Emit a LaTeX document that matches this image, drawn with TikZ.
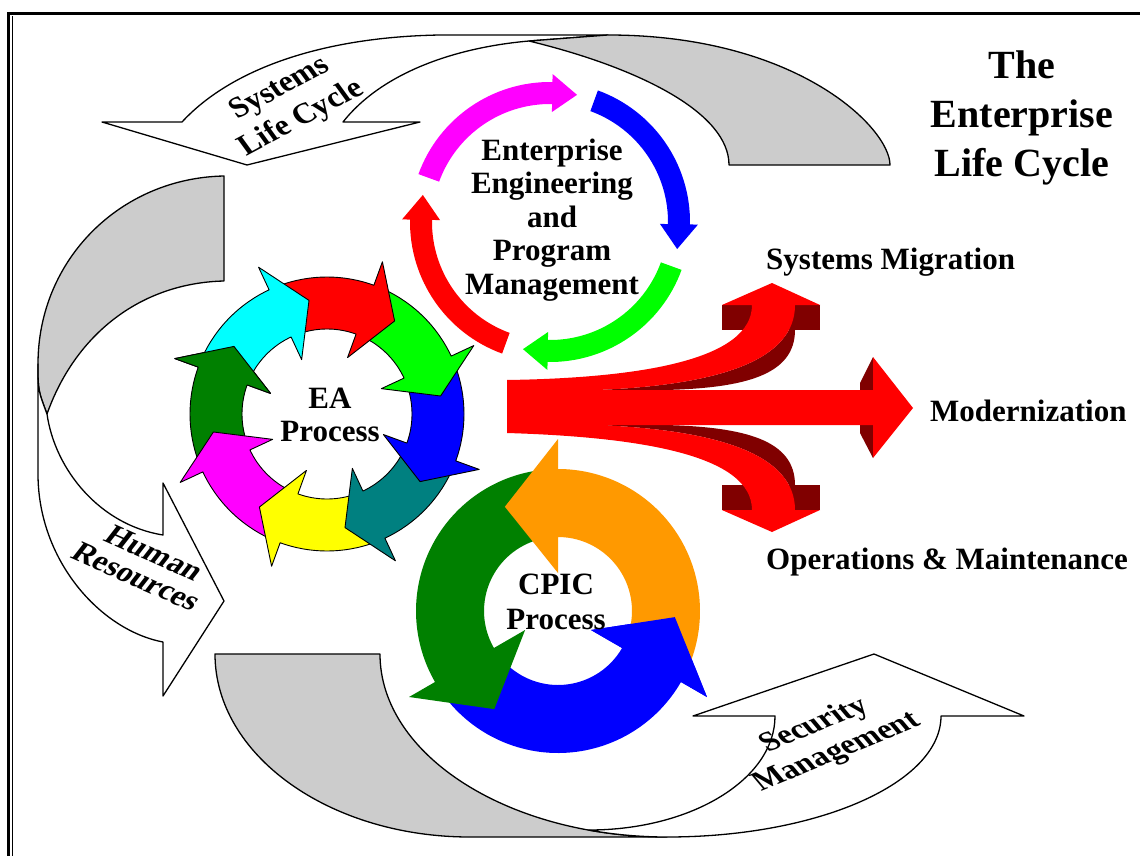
\documentclass[tikz,border=0pt]{standalone}
\usepackage{fontspec}
\setmainfont{Liberation Serif}
\definecolor{sgrey}{RGB}{204,204,204}
\definecolor{cred}{RGB}{255,0,0}
\definecolor{cblue}{RGB}{0,0,255}
\definecolor{clime}{RGB}{0,255,0}
\definecolor{cmag}{RGB}{255,0,255}
\definecolor{ccyan}{RGB}{0,255,255}
\definecolor{cyel}{RGB}{255,255,0}
\definecolor{cteal}{RGB}{0,128,128}
\definecolor{cdkgreen}{RGB}{0,128,0}
\definecolor{corange}{RGB}{255,153,0}
\definecolor{cmaroon}{RGB}{128,0,0}
\begin{document}
\begin{tikzpicture}[x=1pt,y=-1pt,
  swoosh/.style={draw=black,line width=1.3pt,line join=round},
  eaarrow/.style={draw=black,line width=0.9pt,line join=round},
  lbl/.style={font=\bfseries\fontsize{31}{33.5}\selectfont,align=center,inner sep=0pt},
  titlelbl/.style={font=\bfseries\fontsize{40}{49}\selectfont,align=center,inner sep=0pt},
  sidelbl/.style={font=\bfseries\fontsize{31}{33.5}\selectfont,inner sep=0pt,anchor=base west}]
\useasboundingbox (0,0) rectangle (1140,856);
\fill[white] (0,0) rectangle (1140,856);
% frame
\draw[line width=3pt] (7,13.5) -- (1140,13.5);
\draw[line width=2.5pt] (8.5,12) -- (8.5,856);
\draw[line width=1pt] (12.5,16) -- (12.5,856);

% ---- top swoosh (Systems Life Cycle)
\filldraw[swoosh,fill=white] (102,122) -- (182,122) .. controls (230,70) and (320,37) .. (440,35) -- (608,35) -- (529,41) .. controls (450,48) and (380,75) .. (343,122) -- (420,122) -- (247,165) -- cycle;
\filldraw[swoosh,fill=sgrey] (529,41) .. controls (640,68) and (729,113) .. (729,165) -- (890,165) .. controls (890,128) and (797,35) .. (608,35) -- cycle;

% ---- left swoosh (Human Resources)
\filldraw[swoosh,fill=sgrey] (224,176) -- (224,281) .. controls (140,283) and (75,335) .. (47,414) .. controls (38,390) .. (38,364) .. controls (38,260) and (120,178) .. (224,176) -- cycle;
\filldraw[swoosh,fill=white] (38,364) -- (38,474) .. controls (38,560) and (100,630) .. (163,642) -- (163,696) -- (224,601) -- (163,483) -- (163,535) .. controls (100,525) and (55,470) .. (47,414) .. controls (38,390) .. (38,364) -- cycle;

% ---- bottom swoosh (Security Management)
\filldraw[swoosh,fill=sgrey] (215,654) -- (380,654) arc[start angle=180,end angle=90,x radius=287,y radius=183] -- (470,837) arc[start angle=90,end angle=180,x radius=255,y radius=183] -- cycle;
\filldraw[swoosh,fill=white] (589,830) arc[start angle=90,end angle=0,x radius=186,y radius=114] -- (693,716) -- (874,654) -- (1024,716) -- (941,716) arc[start angle=0,end angle=90,x radius=274,y radius=121] arc[start angle=90,end angle=105.8,x radius=287,y radius=183] -- cycle;

% ---- Enterprise Engineering ring
\begin{scope}[shift={(550,222)}]
\foreach \T/\c in {160/cmag, 70/cblue, -20/clime, -110/cred}{
  \pgfmathsetmacro\ta{-\T}
  \pgfmathsetmacro\ba{-(\T-71)}
  \pgfmathsetmacro\pa{-(\T-82)}
  \fill[\c] (\ta:140) arc[start angle=\ta,end angle=\ba,radius=140] -- (\ba:148) -- (\pa:130) -- (\ba:110) -- (\ba:118) arc[start angle=\ba,end angle=\ta,radius=118] -- cycle;
}
\end{scope}

% ---- EA ring
\begin{scope}[shift={(327,414)}]
\foreach \b/\c in {160/cdkgreen, -155/cmag, -110/cyel, -65/cteal, -20/cblue, 25/clime, 70/cred, 115/ccyan}{
  \pgfmathsetmacro\ta{-(\b+40)}
  \pgfmathsetmacro\ba{-\b}
  \pgfmathsetmacro\pa{-(\b-16)}
  \filldraw[eaarrow,fill=\c] (\ta:137) arc[start angle=\ta,end angle=\ba,radius=137] -- (\ba:162) -- (\pa:115) -- (\ba:60) -- (\ba:85) arc[start angle=\ba,end angle=\ta,radius=85] -- cycle;
}
\fill[cdkgreen] (-160:137) -- (-160:162) -- (-144:115) -- (-160:60) -- (-160:85) -- cycle;
\draw[eaarrow] (-160:137) -- (-160:162) -- (-144:115) -- (-160:60) -- (-160:85);
\end{scope}

% ---- CPIC ring
\begin{scope}[shift={(558,611)}]
\foreach \b/\c in {330/cblue, 210/cdkgreen, 90/corange}{
  \pgfmathsetmacro\ta{-(\b-112)}
  \pgfmathsetmacro\ba{-\b}
  \pgfmathsetmacro\pa{-(\b+27)}
  \fill[\c] (\ta:142) arc[start angle=\ta,end angle=\ba,radius=142] -- (\ba:172) -- (\pa:117) -- (\ba:38) -- (\ba:74) arc[start angle=\ba,end angle=\ta,radius=74] -- cycle;
}
\fill[cblue] (-330:142) -- (-330:172) -- (-357:117) -- (-330:38) -- (-330:74) -- cycle;
\end{scope}

% ---- three-way red arrow
\fill[cmaroon] (722,305) rectangle (820,330);
\fill[cmaroon] (795,305) -- (795,330) .. controls (795,375) and (745,388) .. (665,390) -- (597,390) .. controls (720,385) and (795,360) .. (795,305) -- cycle;
\fill[cmaroon] (722,485) rectangle (820,510);
\fill[cmaroon] (795,510) -- (795,485) .. controls (795,440) and (745,427) .. (665,425) -- (597,425) .. controls (720,430) and (795,455) .. (795,510) -- cycle;
\fill[cmaroon] (860,383) -- (873,357) -- (873,458) -- (860,433) -- cycle;
\fill[cred] (507,380) .. controls (640,378) and (752,360) .. (752,305) -- (722,305) -- (772,283) -- (820,305) -- (795,305) .. controls (795,360) and (720,385) .. (597,390) -- (873,390) -- (873,357) -- (913,408) -- (873,458) -- (873,425) -- (597,425) .. controls (720,430) and (795,455) .. (795,510) -- (820,510) -- (772,532) -- (722,510) -- (752,510) .. controls (752,455) and (640,437) .. (507,433) -- cycle;

% ---- labels
\node[titlelbl] (title) at (1022,118) {The\\Enterprise\\Life Cycle};
\node[lbl] (ee) at (552,220) {Enterprise\\Engineering\\and\\Program\\Management};
\node[lbl,font=\bfseries\fontsize{31}{33}\selectfont] (ea) at (330,414.5) {EA\\Process};
\node[lbl,font=\bfseries\fontsize{31}{35}\selectfont] (cpic) at (556,602) {CPIC\\Process};
\node[lbl,font=\bfseries\fontsize{31}{36.8}\selectfont,cm={0.883,0.469,-0.588,0.809,(0,0)}] (slc) at (291,104) {Systems\\Life Cycle};
\node[lbl,font=\bfseries\fontsize{31}{30}\selectfont,cm={0.914,-0.407,0.616,0.788,(0,0)}] (hr) at (145.5,565) {Human\\Resources};
\node[lbl,font=\bfseries\fontsize{31}{35}\selectfont,cm={0.924,0.383,-0.643,0.766,(0,0)}] (sec) at (826,739) {Security\\Management};
\node[sidelbl] (mig) at (766,269) {Systems Migration};
\node[sidelbl] (mod) at (930,421) {Modernization};
\node[sidelbl] (ops) at (766,569) {Operations \& Maintenance};
\end{tikzpicture}
\end{document}
